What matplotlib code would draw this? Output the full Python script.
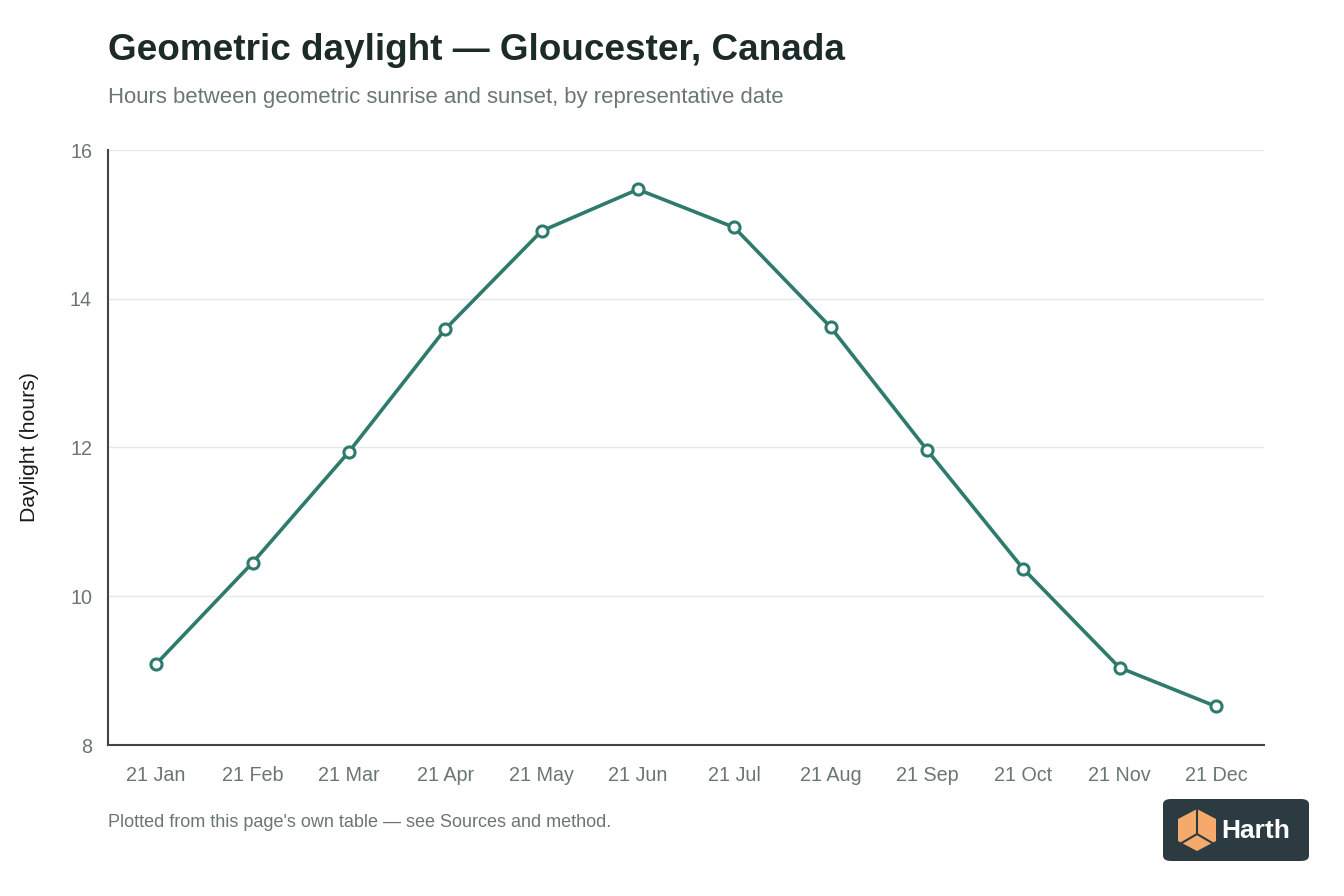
import matplotlib.pyplot as plt
from matplotlib.patches import FancyBboxPatch, Polygon
import numpy as np

plt.rcParams['font.family'] = ['Liberation Sans', 'DejaVu Sans']

# data
months = ['21 Jan', '21 Feb', '21 Mar', '21 Apr', '21 May', '21 Jun',
          '21 Jul', '21 Aug', '21 Sep', '21 Oct', '21 Nov', '21 Dec']
daylight = [9.09, 10.45, 11.94, 13.59, 14.91, 15.47,
            14.96, 13.62, 11.97, 10.37, 9.04, 8.52]
yticks = [8, 10, 12, 14, 16]

line_color = '#2e7b6d'
grey_text = '#6b7672'

fig = plt.figure(figsize=(13.44, 8.96), dpi=100)
ax = fig.add_axes([108/1344, 1-745/896, (1264-108)/1344, (745-150)/896])

x = np.arange(len(months))
ax.plot(x, daylight, color=line_color, lw=2.6, marker='o', ms=8,
        mfc='white', mec=line_color, mew=2.2, zorder=3)

ax.set_xlim(-0.5, len(months)-0.5)
ax.set_ylim(8, 16)
ax.set_xticks(x)
ax.set_xticklabels(months)
ax.set_yticks(yticks)
ax.tick_params(length=0, labelsize=14.2, colors=grey_text)
ax.tick_params(axis='x', pad=15)
ax.tick_params(axis='y', pad=11.5)
ax.grid(axis='y', color='#e6e9e8', lw=1)
ax.set_axisbelow(True)
for s in ['top', 'right']:
    ax.spines[s].set_visible(False)
for s in ['left', 'bottom']:
    ax.spines[s].set_color('#444444')
    ax.spines[s].set_linewidth(1.5)
ax.set_ylabel('Daylight (hours)', fontsize=15.3, color='#1a1a1a', labelpad=22)

fig.text(108/1344, 1-50/896, 'Geometric daylight \u2014 Gloucester, Canada',
         fontsize=26.6, fontweight='bold', color='#1c2b27', va='center')
fig.text(108/1344, 1-97/896, 'Hours between geometric sunrise and sunset, by representative date',
         fontsize=15.9, color=grey_text, va='center')
fig.text(108/1344, 1-822/896, "Plotted from this page's own table \u2014 see Sources and method.",
         fontsize=13, color=grey_text, va='center')

# logo badge
W, H = 1344, 896
badge = FancyBboxPatch((1163/W, 1-861/H), 146/W, 62/H,
                       boxstyle='round,pad=0,rounding_size=0.006',
                       transform=fig.transFigure, fc='#2c3a42', ec='none')
fig.patches.append(badge)
cx, cy = 1197, 830
cube = Polygon([((cx-19)/W, 1-(cy-11)/H), (cx/W, 1-(cy-21)/H), ((cx+19)/W, 1-(cy-11)/H),
                ((cx+19)/W, 1-(cy+11)/H), (cx/W, 1-(cy+21)/H), ((cx-19)/W, 1-(cy+11)/H)],
               closed=True, transform=fig.transFigure, fc='#f5a96b', ec='none')
fig.patches.append(cube)
for pts in [[(cx, cy-21), (cx, cy+4)], [(cx, cy+4), (cx-17, cy+14)], [(cx, cy+4), (cx+17, cy+14)]]:
    fig.lines.append(plt.Line2D([p[0]/W for p in pts], [1-p[1]/H for p in pts],
                                transform=fig.transFigure, color='#2c3a42', lw=1.5))
fig.text(1221/W, 1-831/H, 'Harth', fontsize=19, fontweight='bold', color='white', va='center')

fig.savefig('out.png', dpi=100, facecolor='white')
